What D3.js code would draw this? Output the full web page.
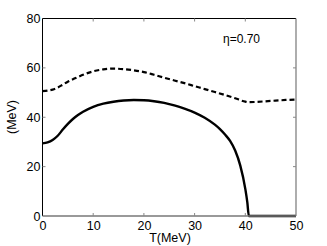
<!DOCTYPE html>
<html><head><meta charset="utf-8">
<script src="https://cdn.jsdelivr.net/npm/d3@7"></script>
<style>body{margin:0;background:#fff}svg{display:block}text{font-family:"Liberation Sans",Arial,sans-serif}</style>
</head><body><svg id="c" width="327" height="246"></svg>
<script>
const solidT = [0,1,2,3,4,5,6,7,8,10,12,14,16,18,20,22,24,26,28,30,32,34,35,36,37,38,39,40,40.4,40.7,42,45,50];
const solidV = [29.4,29.8,30.8,32.5,35,37.3,39.3,40.9,42.2,44.2,45.5,46.3,46.8,47,46.9,46.5,45.8,44.8,43.5,41.9,39.8,37,35.2,33,30.4,26.5,20.5,11,5.5,0,0,0,0];
const dashT = [0,1,2,3,4,5,6,7,8,10,12,14,16,18,20,22,24,26,28,30,32,34,36,38,40,40.5,42,45,48,50];
const dashV = [50.6,50.8,51.2,52,53.2,54.4,55.4,56.3,57.2,58.6,59.4,59.7,59.5,59,58.3,57.2,56,54.9,53.8,52.6,51.4,50.2,49,47.7,46.3,46.1,46.2,46.6,47,47.2];
const xTicks = [0,10,20,30,40,50];
const yTicks = [0,20,40,60,80];
const annotation = "η=0.70";

const svg = d3.select("#c");
const L=42.5,R=296,T=18.5,B=216;
const x = d3.scaleLinear().domain([0,50]).range([L,R]);
const y = d3.scaleLinear().domain([0,80]).range([B,T]);

const line = d3.line().x(d=>x(d[0])).y(d=>y(d[1])).curve(d3.curveMonotoneX);
svg.append("path").datum(dashT.map((t,i)=>[t,dashV[i]])).attr("d",line)
  .attr("fill","none").attr("stroke","#000").attr("stroke-width",2.2).attr("stroke-dasharray","5,3");
svg.append("path").datum(solidT.map((t,i)=>[t,solidV[i]])).attr("d",line)
  .attr("fill","none").attr("stroke","#000").attr("stroke-width",2.4);

// box
const g = svg.append("g");
g.append("line").attr("x1",L).attr("x2",L).attr("y1",T).attr("y2",B).attr("stroke","#000");
g.append("line").attr("x1",L).attr("x2",R).attr("y1",T).attr("y2",T).attr("stroke","#000");
g.append("line").attr("x1",R).attr("x2",R).attr("y1",T).attr("y2",B).attr("stroke","#777").attr("stroke-width",1.2);
g.append("line").attr("x1",L).attr("x2",R).attr("y1",B).attr("y2",B).attr("stroke","#777").attr("stroke-width",1.6);

// ticks
const xa = d3.axisBottom(x).tickValues(xTicks).tickSize(0).tickPadding(5);
const xg = svg.append("g").attr("transform",`translate(0,${B})`).call(xa);
xg.select(".domain").remove();
xg.selectAll("text").attr("font-size",12.5).attr("fill","#000").attr("font-family","Liberation Sans, Arial, sans-serif");
const ya = d3.axisLeft(y).tickValues(yTicks).tickSize(0).tickPadding(2);
const yg = svg.append("g").attr("transform",`translate(${L},0)`).call(ya);
yg.select(".domain").remove();
yg.selectAll("text").attr("font-size",12.5).attr("fill","#000").attr("font-family","Liberation Sans, Arial, sans-serif");

xTicks.slice(1,-1).forEach(t=>{
  svg.append("line").attr("x1",x(t)).attr("x2",x(t)).attr("y1",B).attr("y2",B-3).attr("stroke","#888");
  svg.append("line").attr("x1",x(t)).attr("x2",x(t)).attr("y1",T).attr("y2",T+3).attr("stroke","#888");
});
yTicks.slice(1,-1).forEach(t=>{
  svg.append("line").attr("x1",L).attr("x2",L+3).attr("y1",y(t)).attr("y2",y(t)).attr("stroke","#888");
  svg.append("line").attr("x1",R).attr("x2",R-3).attr("y1",y(t)).attr("y2",y(t)).attr("stroke","#888");
});

svg.append("text").attr("x",223).attr("y",43).attr("font-size",12).text(annotation);
svg.append("text").attr("x",170).attr("y",242).attr("text-anchor","middle").attr("font-size",12.5).text("T(MeV)");
svg.append("text").attr("transform","translate(16,117) rotate(-90)").attr("text-anchor","middle").attr("font-size",12.5).text("(MeV)");
</script></body></html>
